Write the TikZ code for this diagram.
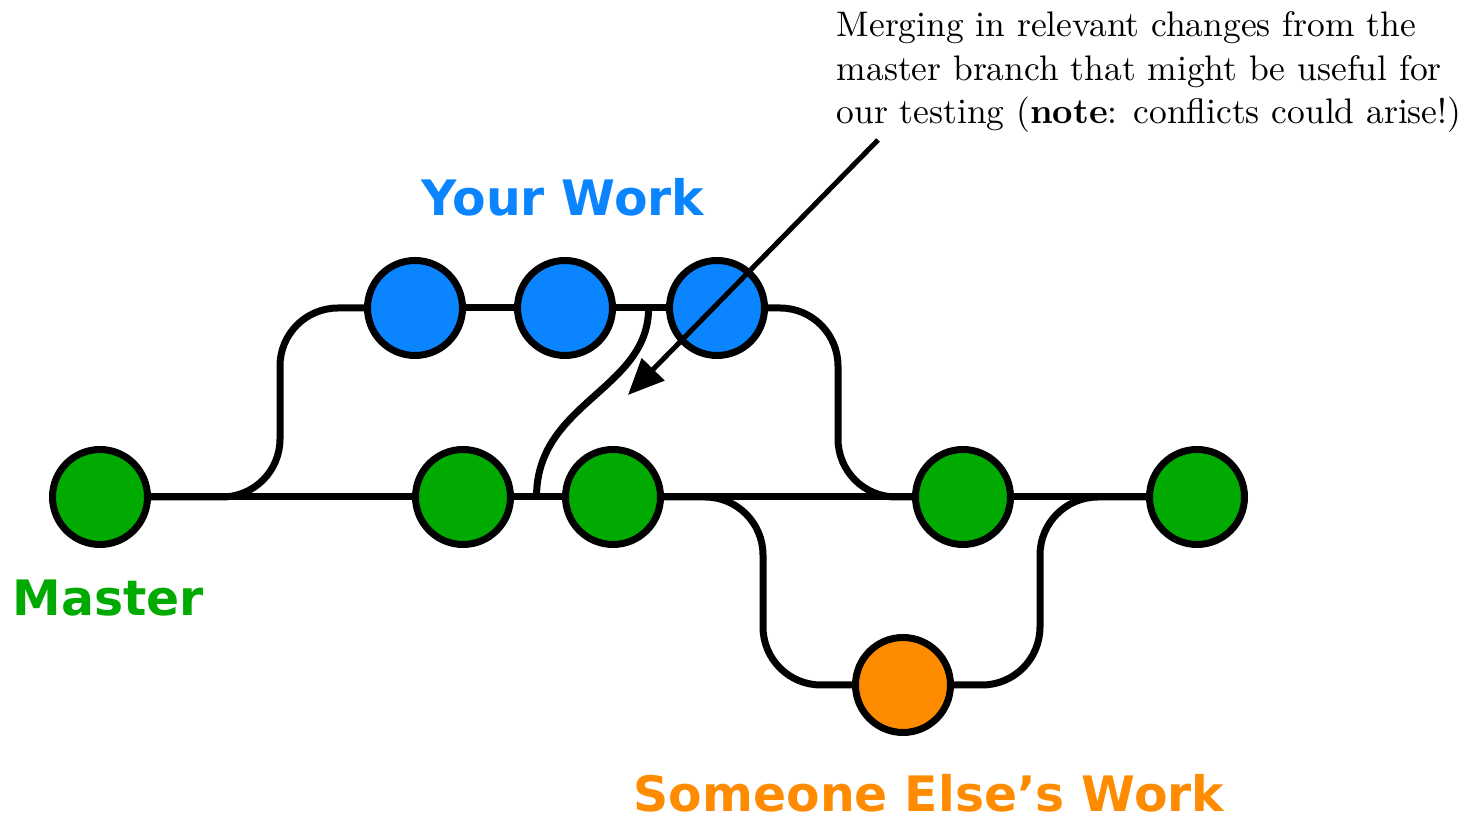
\documentclass[tikz,border=0pt]{standalone}
\usepackage{fontspec}
\newfontfamily\headfont{DejaVu Sans}
\usetikzlibrary{positioning,arrows.meta,calc}
\definecolor{workblue}{RGB}{10,132,255}
\definecolor{mastergreen}{RGB}{0,170,0}
\definecolor{otherorange}{RGB}{255,140,0}
\begin{document}
\begin{tikzpicture}[
  x=0.1mm,y=-0.1mm,
  commit/.style={circle,draw=black,line width=0.7mm,minimum size=9.5mm,inner sep=0pt},
  branch/.style={line width=0.7mm,rounded corners=5.8mm},
  title/.style={font={\headfont\bfseries\fontsize{13.9pt}{16pt}\selectfont},inner sep=0pt},
  pointer/.style={line width=0.5mm,-{Triangle[length=3.6mm,width=3.1mm]}},
  note/.style={font={\fontsize{10.1pt}{12.4pt}\selectfont},align=left,inner sep=0pt},
]
  \useasboundingbox (0,0) rectangle (1470,820);
  % commits
  \node[commit,fill=mastergreen] (g1) at (100,497) {};
  \node[commit,fill=mastergreen] (g2) at (463,497) {};
  \node[commit,fill=mastergreen] (g3) at (613,497) {};
  \node[commit,fill=mastergreen] (g4) at (963,497) {};
  \node[commit,fill=mastergreen] (g5) at (1197,497) {};
  \node[commit,fill=workblue] (b1) at (415,308) {};
  \node[commit,fill=workblue] (b2) at (565,308) {};
  \node[commit,fill=workblue] (b3) at (717,308) {};
  \node[commit,fill=otherorange] (o1) at (903,685) {};
  % labels
  \node[title,text=workblue] (yours) at (563,197) {Your Work};
  \node[title,text=mastergreen,anchor=west] (master) at (12,598) {Master};
  \node[title,text=otherorange] (others) at (929,793) {Someone Else’s Work};
  \node[note,anchor=north west] (merge) at (836,11)
    {Merging in relevant changes from the\\master branch that might be useful for\\our testing (\textbf{note}: conflicts could arise!)};
  % branches
  \draw[branch] (g1.east) -- (g2.west) (g2.east) -- (g3.west) (g3.east) -- (g4.west) (g4.east) -- (g5.west);
  \draw[branch] (b1.east) -- (b2.west) (b2.east) -- (b3.west);
  \draw[branch] (g1.east) -- (280,497) -- (280,308) -- (b1.west);
  \draw[branch] (b3.east) -- (838,308) -- (838,497) -- (g4.west);
  \draw[branch] (g3.east) -- (763,497) -- (763,685) -- (o1.west);
  \draw[branch] (o1.east) -- (1040,685) -- (1040,497) -- (g5.west);
  \coordinate (mfrom) at ($(b2)!0.55!(b3)$);
  \coordinate (mto) at ($(g2)!0.49!(g3)$);
  \draw[line width=0.7mm] (mfrom) .. controls ($(mfrom)+(0,82)$) and ($(mto)+(0,-95)$) .. (mto);
  % annotation arrow
  \coordinate (nstart) at (878,140);
  \coordinate (ntip) at (628,395);
  \draw[pointer] (nstart) -- (ntip);
\end{tikzpicture}
\end{document}
